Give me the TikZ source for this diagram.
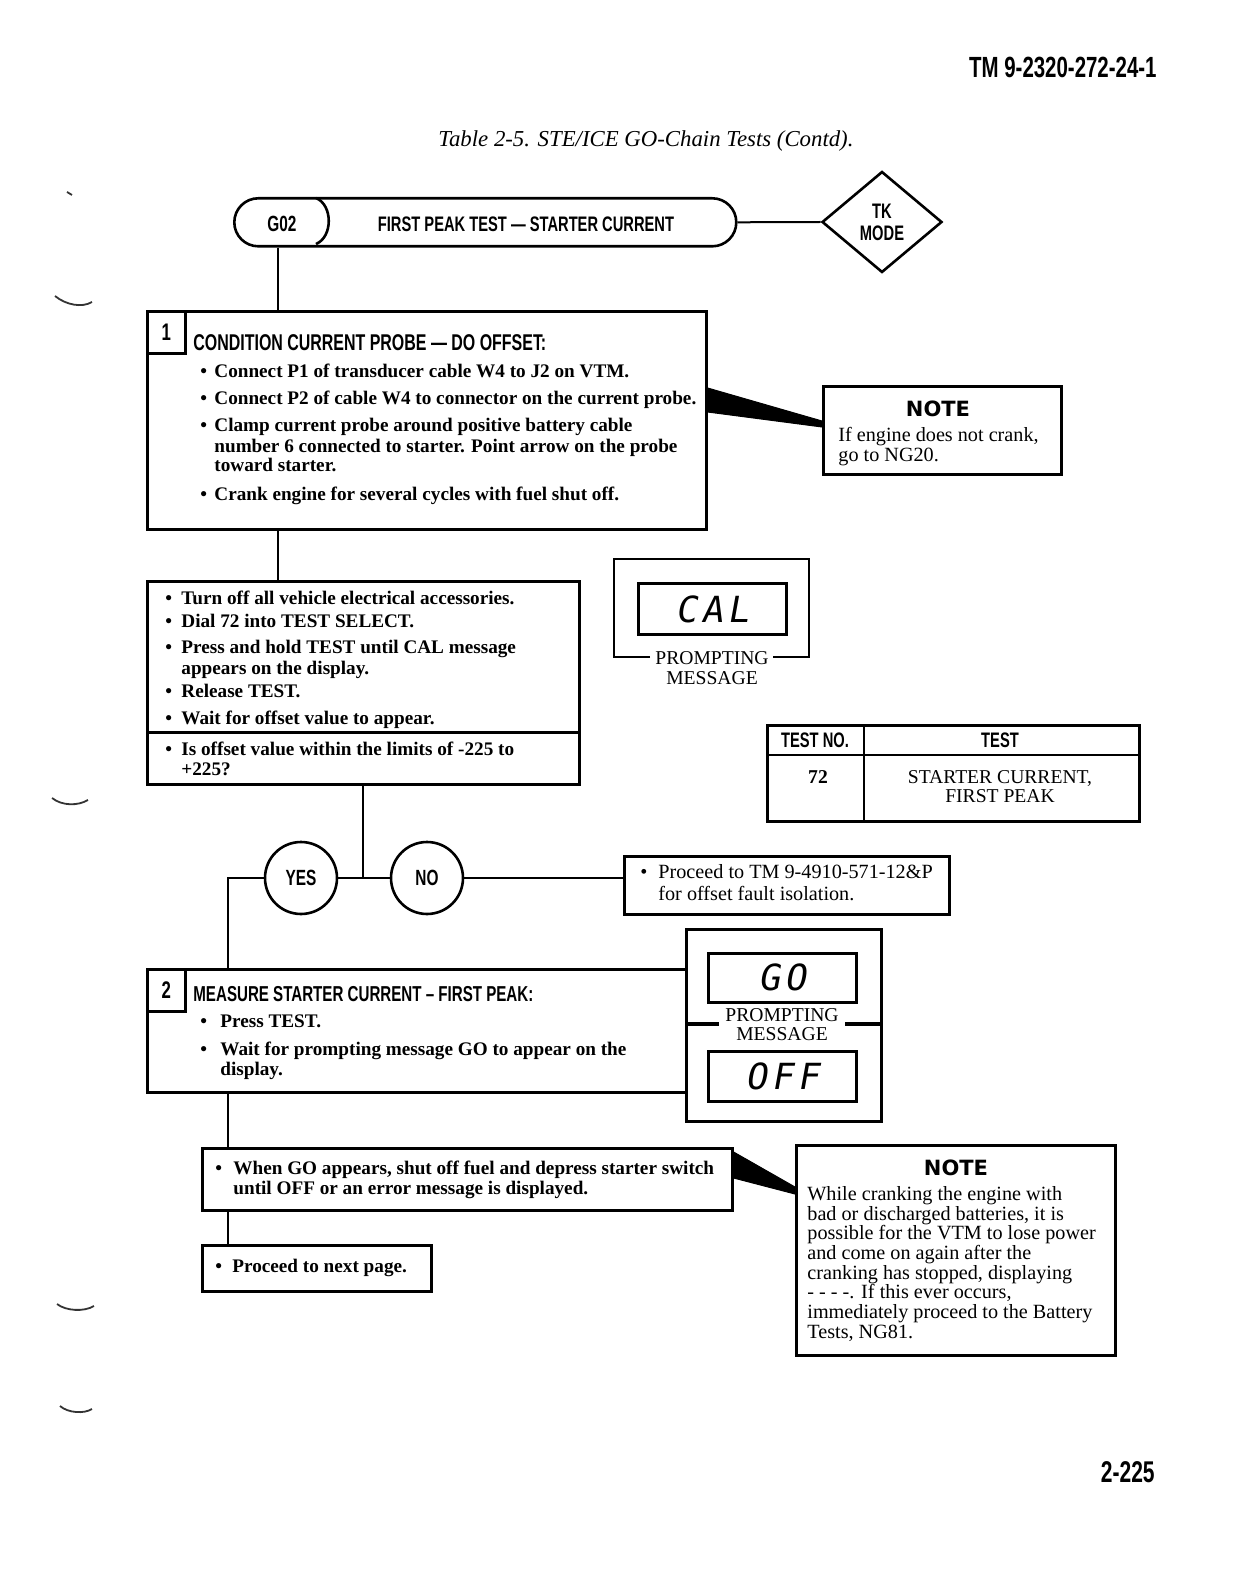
\documentclass[tikz,border=0pt]{standalone}
\usepackage{fontspec}
\setmainfont{Liberation Serif}
\newfontfamily\headfont[FakeStretch=0.7,Ligatures=TeX]{Liberation Sans}
\newfontfamily\notefont{DejaVu Sans}
\newfontfamily\lcdfont[FakeSlant=0.18,LetterSpace=12]{DejaVu Sans Mono}
\usetikzlibrary{shapes.geometric,calc}
\tikzset{
  x=0.5pt, y=-0.5pt,
  box/.style={draw, line width=1.3pt, anchor=north west, inner sep=0pt},
  conn/.style={line width=1pt},
  txt/.style={anchor=base west, inner sep=0pt, font=\fontsize{9.6}{10}\selectfont\bfseries},
  rtxt/.style={anchor=base west, inner sep=0pt, font=\fontsize{10.1}{10}\selectfont},
  hd/.style={anchor=base west, inner sep=0pt, font=\fontsize{11.4}{12}\headfont\bfseries},
  ctr/.style={anchor=base, inner sep=0pt, font=\fontsize{9.8}{10}\selectfont},
  lcd/.style={anchor=center, inner sep=0pt, font=\fontsize{18}{20}\lcdfont},
  wedge/.style={fill=black, draw=black, line width=0.5pt},
  holemark/.style={line width=0.9pt, black!80},
}
\begin{document}
\begin{tikzpicture}
\useasboundingbox (0,0) rectangle (1232,1572);

% header
\node[anchor=base east, inner sep=0pt, font=\fontsize{14.6}{15}\headfont\bfseries] (hdr) at (1157,78) {TM 9-2320-272-24-1};
\node[anchor=base, inner sep=0pt, font=\fontsize{11.4}{12}\selectfont\itshape] (title) at (646,147) {Table 2-5. STE/ICE GO-Chain Tests (Contd).};

% margin marks
\draw[holemark] (55,296) .. controls (66,305) and (82,308) .. (92,302);
\draw[holemark] (67,192) -- (72,195);
\draw[holemark] (52,798) .. controls (62,806) and (78,806) .. (88,800);
\draw[holemark] (57,1304) .. controls (66,1311) and (84,1312) .. (94,1306);
\draw[holemark] (60,1406) .. controls (68,1413) and (84,1414) .. (92,1409);

% G02 capsule
\node[box, rounded corners=12pt, minimum width=251pt, minimum height=24pt] (g02) at (233,197) {};
\draw[line width=1.3pt] (316,198) .. controls (333,205) and (333,237) .. (316,244);
\node[anchor=center, inner sep=0pt, font=\fontsize{11}{12}\headfont\bfseries] (g02t) at (282,224) {G02};
\node[anchor=center, inner sep=0pt, font=\fontsize{10.5}{12}\headfont\bfseries] (g02h) at (526,224) {FIRST PEAK TEST — STARTER CURRENT};

% TK MODE diamond
\node[diamond, draw, line width=1.3pt, inner sep=0pt, minimum width=60pt, minimum height=50.5pt, align=center, font=\fontsize{10.5}{11}\headfont\bfseries] (tk) at (882,222) {TK\\MODE};
\draw[conn] (g02.east) -- (tk.west);

% Step 1 box
\node[box, minimum width=279.5pt, minimum height=109pt] (b1) at (146,310) {};
\node[box, minimum width=19pt, minimum height=21pt, font=\fontsize{12}{12}\headfont\bfseries] (n1) at (146,310) {1};
\draw[conn] (278,0 |- g02.south) -- (278,0 |- b1.north);
\node[hd] (h1) at (193,351) {CONDITION CURRENT PROBE — DO OFFSET:};
\node[txt] (b1a) at (200,378) {•};
\node[txt] (b1at) at (214,378) {Connect P1 of transducer cable W4 to J2 on VTM.};
\node[txt] (b1b) at (200,405) {•};
\node[txt] (b1bt) at (214,405) {Connect P2 of cable W4 to connector on the current probe.};
\node[txt] (b1c) at (200,432) {•};
\node[txt] (b1ct) at (214,432) {Clamp current probe around positive battery cable};
\node[txt] (b1ct2) at (214,452) {number 6 connected to starter. Point arrow on the probe};
\node[txt] (b1ct3) at (214,472) {toward starter.};
\node[txt] (b1d) at (200,500) {•};
\node[txt] (b1dt) at (214,500) {Crank engine for several cycles with fuel shut off.};

% Note 1
\node[box, minimum width=119pt, minimum height=44pt] (note1) at (822,385) {};
\node[anchor=base, inner sep=0pt, font=\fontsize{10.5}{11}\notefont\bfseries] (note1h) at (938,416) {NOTE};
\node[rtxt] (note1a) at (838,442) {If engine does not crank,};
\node[rtxt] (note1b) at (838,461) {go to NG20.};
\fill[wedge] (b1.north east |- 0,388) -- (note1.west |- 0,421) -- (note1.west |- 0,427) -- (b1.north east |- 0,412) -- cycle;

% Box 2
\node[box, minimum width=216pt, minimum height=75.5pt] (b2) at (146,580) {};
\node[box, minimum width=216pt, minimum height=26pt] (b2q) at (146,731) {};
\draw[conn] (278,0 |- b1.south) -- (278,0 |- b2.north);
\node[txt] (b2a) at (165,604) {•};
\node[txt] (b2at) at (181,604) {Turn off all vehicle electrical accessories.};
\node[txt] (b2b) at (165,627) {•};
\node[txt] (b2bt) at (181,627) {Dial 72 into TEST SELECT.};
\node[txt] (b2c) at (165,653) {•};
\node[txt] (b2ct) at (181,653) {Press and hold TEST until CAL message};
\node[txt] (b2ct2) at (181,674) {appears on the display.};
\node[txt] (b2d) at (165,697) {•};
\node[txt] (b2dt) at (181,697) {Release TEST.};
\node[txt] (b2e) at (165,724) {•};
\node[txt] (b2et) at (181,724) {Wait for offset value to appear.};
\node[txt] (b2f) at (165,755) {•};
\node[txt] (b2ft) at (181,755) {Is offset value within the limits of -225 to};
\node[txt] (b2ft2) at (181,775) {+225?};

% CAL display
\draw[line width=1.3pt] (650,657) -- (614,657) -- (614,559) -- (809,559) -- (809,657) -- (773,657);
\node[box, minimum width=74pt, minimum height=25.5pt] (cal) at (637,582) {};
\node[lcd] (calt) at (712,609) {CAL};
\node[ctr] (calp) at (712,664) {PROMPTING};
\node[ctr] (calm) at (712,684) {MESSAGE};

% Test table
\node[box, minimum width=186pt, minimum height=48pt] (tbl) at (766,724) {};
\draw[line width=1.3pt] (766,755) -- (1138,755);
\draw[line width=1.3pt] (864,724) -- (864,820);
\node[anchor=base, inner sep=0pt, font=\fontsize{10.5}{11}\headfont\bfseries] (tbh1) at (815,747) {TEST NO.};
\node[anchor=base, inner sep=0pt, font=\fontsize{10.5}{11}\headfont\bfseries] (tbh2) at (1000,747) {TEST};
\node[ctr, font=\fontsize{9.8}{10}\selectfont\bfseries] (tb1) at (818,783) {72};
\node[ctr] (tb2) at (1000,783) {STARTER CURRENT,};
\node[ctr] (tb3) at (1000,802) {FIRST PEAK};

% Yes / No
\node[circle, draw, line width=1.3pt, minimum size=36pt, inner sep=0pt, font=\fontsize{11}{12}\headfont\bfseries] (yes) at (301,878) {YES};
\node[circle, draw, line width=1.3pt, minimum size=36pt, inner sep=0pt, font=\fontsize{11}{12}\headfont\bfseries] (no) at (427,878) {NO};
\coordinate (j1) at (363,878);
\coordinate (cl) at (228,878);
\draw[conn] (363,0 |- b2q.south) -- (j1);
\draw[conn] (yes.east) -- (no.west);
\node[box, minimum width=162.5pt, minimum height=29pt] (ptm) at (623,855) {};
\draw[conn] (no.east) -- (ptm.west |- no.east);
\node[rtxt] (ptma) at (640,878) {•};
\node[rtxt] (ptmat) at (658,878) {Proceed to TM 9-4910-571-12\&P};
\node[rtxt] (ptmat2) at (658,900) {for offset fault isolation.};

% Step 2 box
\node[box, minimum width=269.5pt, minimum height=61.5pt] (b3) at (146,968) {};
\node[box, minimum width=19pt, minimum height=21pt, font=\fontsize{12}{12}\headfont\bfseries] (n2) at (146,968) {2};
\draw[conn] (yes.west) -- (cl) -- (cl |- b3.north);
\node[hd, font=\fontsize{10.8}{12}\headfont\bfseries] (h2) at (193,1001) {MEASURE STARTER CURRENT – FIRST PEAK:};
\node[txt] (b3a) at (200,1027) {•};
\node[txt] (b3at) at (220,1027) {Press TEST.};
\node[txt] (b3b) at (200,1055) {•};
\node[txt] (b3bt) at (220,1055) {Wait for prompting message GO to appear on the};
\node[txt] (b3bt2) at (220,1075) {display.};

% GO / OFF display
\node[box, minimum width=97.5pt, minimum height=96pt] (disp) at (685,928) {};
\node[box, minimum width=74pt, minimum height=24.5pt] (go) at (707,952) {};
\node[lcd] (got) at (782,977) {GO};
\node[box, minimum width=74pt, minimum height=25pt] (off) at (707,1050) {};
\node[lcd] (offt) at (782,1076) {OFF};
\draw[line width=1.6pt] (disp.west |- 0,1024) -- (719,1024);
\draw[line width=1.6pt] (845,1024) -- (disp.east |- 0,1024);
\node[ctr] (dpp) at (782,1021) {PROMPTING};
\node[ctr] (dpm) at (782,1040) {MESSAGE};

% Box 4 and 5
\node[box, minimum width=265pt, minimum height=31pt] (b4) at (201,1147) {};
\draw[conn] (cl |- b3.south) -- (cl |- b4.north);
\node[txt] (b4a) at (215,1174) {•};
\node[txt] (b4at) at (233,1174) {When GO appears, shut off fuel and depress starter switch};
\node[txt] (b4at2) at (233,1194) {until OFF or an error message is displayed.};
\node[box, minimum width=114.5pt, minimum height=23pt] (b5) at (201,1244) {};
\draw[conn] (cl |- b4.south) -- (cl |- b5.north);
\node[txt] (b5a) at (215,1272) {•};
\node[txt] (b5at) at (232,1272) {Proceed to next page.};

% Note 2
\node[box, minimum width=159.5pt, minimum height=105pt] (note2) at (795,1144) {};
\node[anchor=base, inner sep=0pt, font=\fontsize{10.5}{11}\notefont\bfseries] (note2h) at (956,1175) {NOTE};
\fill[wedge] (b4.north east |- 0,1152) -- (note2.west |- 0,1187) -- (note2.west |- 0,1194) -- (b4.north east |- 0,1178) -- cycle;
\node[rtxt] (n2a) at (807,1200) {While cranking the engine with};
\node[rtxt] (n2b) at (807,1220) {bad or discharged batteries, it is};
\node[rtxt] (n2c) at (807,1239) {possible for the VTM to lose power};
\node[rtxt] (n2d) at (807,1259) {and come on again after the};
\node[rtxt] (n2e) at (807,1279) {cranking has stopped, displaying};
\node[rtxt] (n2f) at (807,1298) {- - - -. If this ever occurs,};
\node[rtxt] (n2g) at (807,1318) {immediately proceed to the Battery};
\node[rtxt] (n2h) at (807,1338) {Tests, NG81.};

% page number
\node[anchor=base east, inner sep=0pt, font=\fontsize{15}{16}\headfont\bfseries] (pg) at (1155,1482) {2-225};
\end{tikzpicture}
\end{document}
